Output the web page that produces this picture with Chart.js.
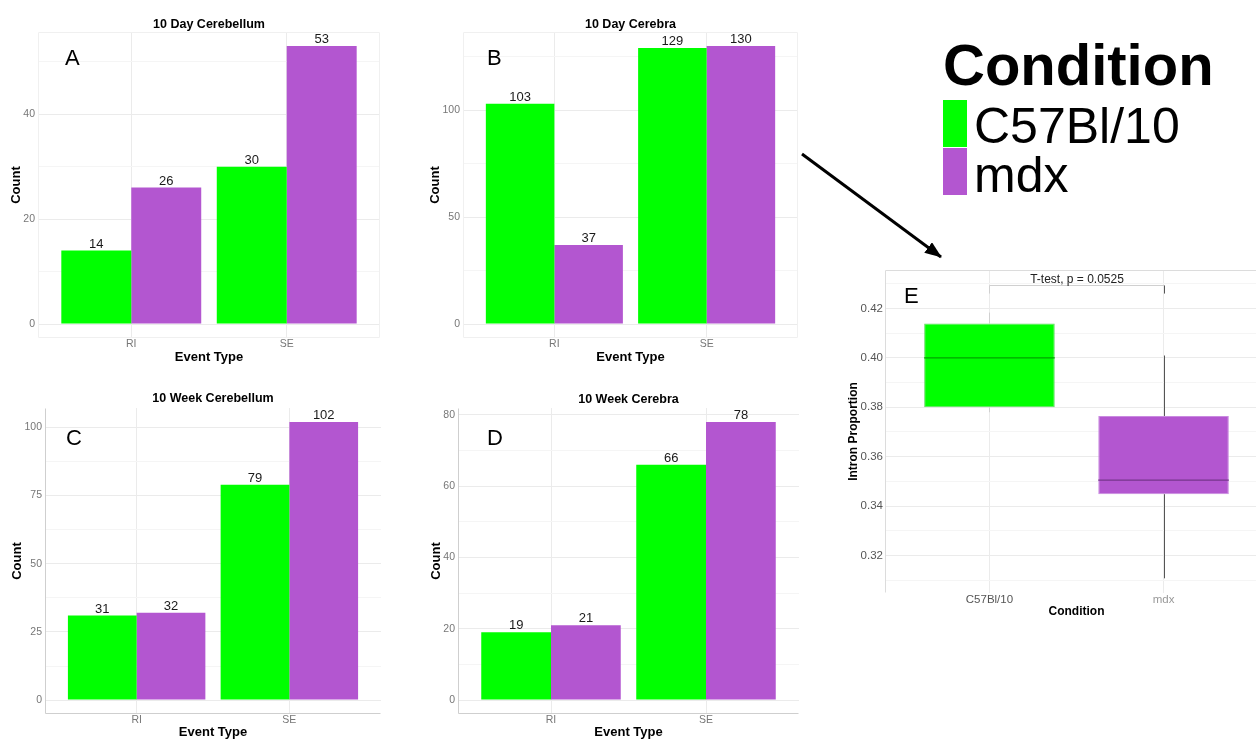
<!DOCTYPE html>
<html lang="en">
<head>
<meta charset="UTF-8">
<title>Event counts and intron proportion</title>
<script src="https://cdn.jsdelivr.net/npm/chart.js@4.4.1/dist/chart.umd.min.js"></script>
<style>
  body { margin: 0; width: 1256px; height: 740px; overflow: hidden; position: relative; background: #fff; }
  canvas { position: absolute; }
  svg { position: absolute; left: 0; top: 0; pointer-events: none; }
</style>
</head>
<body>
<canvas id="cA" width="410" height="370" style="left:0;top:0"></canvas>
<canvas id="cB" width="400" height="370" style="left:410px;top:0"></canvas>
<canvas id="cC" width="410" height="370" style="left:0;top:370px"></canvas>
<canvas id="cD" width="400" height="370" style="left:410px;top:370px"></canvas>
<canvas id="cE" width="460" height="390" style="left:830px;top:250px"></canvas>

<svg width="1256" height="740" font-family="Liberation Sans, Arial, sans-serif">
  <defs>
    <marker id="head" markerUnits="userSpaceOnUse" markerWidth="17" markerHeight="13" refX="16" refY="6.5" orient="auto">
      <path d="M0,0 L17,6.5 L0,13 z" fill="#000"/>
    </marker>
  </defs>
  <line x1="802" y1="154" x2="941" y2="257" stroke="#000" stroke-width="3" marker-end="url(#head)"/>
  <text x="943" y="85" font-size="58" font-weight="bold">Condition</text>
  <rect x="943" y="100" width="24" height="47" fill="#00ff00"/>
  <rect x="943" y="148" width="24" height="47" fill="#b356d0"/>
  <text x="974" y="143" font-size="50">C57Bl/10</text>
  <text x="974" y="192" font-size="50">mdx</text>
</svg>

<script>
    // 데이터
    const eventTypes = ['RI', 'SE'];
    const conditions = ['C57Bl/10', 'mdx'];

    const dayCerebellumC57 = [14, 30];
    const dayCerebellumMdx = [26, 53];
    const dayCerebraC57 = [103, 129];
    const dayCerebraMdx = [37, 130];
    const weekCerebellumC57 = [31, 79];
    const weekCerebellumMdx = [32, 102];
    const weekCerebraC57 = [19, 66];
    const weekCerebraMdx = [21, 78];

    const ticksA = [0, 20, 40];
    const minorA = [10, 30, 50];
    const ticksB = [0, 50, 100];
    const minorB = [25, 75, 125];
    const ticksC = [0, 25, 50, 75, 100];
    const minorC = [12.5, 37.5, 62.5, 87.5];
    const ticksD = [0, 20, 40, 60, 80];
    const minorD = [10, 30, 50, 70];

    // 박스플롯 (Intron Proportion)
    const intronLow = [0.378, 0.3107];
    const intronQ1 = [0.380, 0.3448];
    const intronMedian = [0.400, 0.3505];
    const intronQ3 = [0.414, 0.3765];
    const intronHigh = [0.4184, 0.401];
    const testLabel = 'T-test, p = 0.0525';
    const bracketTop = 0.4297;
    const bracketTip = 0.4261;
    const ticksE = [0.32, 0.34, 0.36, 0.38, 0.40, 0.42];
    const minorE = [0.31, 0.33, 0.35, 0.37, 0.39, 0.41, 0.43];

    const GREEN = '#00ff00';
    const PURPLE = '#b356d0';
    const GRID = '#ebebeb';
    const GRID_MINOR = '#f5f5f5';
    const FONT = '"Liberation Sans", Arial, sans-serif';
    Chart.defaults.font.family = FONT;

    // 제목, 패널 문자, 값 라벨, 테두리
    const decor = {
        id: 'decor',
        beforeDatasetsDraw(chart, args, o) {
            const {ctx, chartArea: a} = chart;
            if (!o.frame) return;
            ctx.save();
            ctx.strokeStyle = o.frameColor;
            ctx.lineWidth = 1;
            ctx.beginPath();
            const L = Math.round(a.left) + 0.5, R = Math.round(a.right) - 0.5;
            const T = Math.round(a.top) + 0.5, B = Math.round(a.bottom) - 0.5;
            if (o.frame.includes('t')) { ctx.moveTo(L, T); ctx.lineTo(R, T); }
            if (o.frame.includes('l')) { ctx.moveTo(L, T); ctx.lineTo(L, B); }
            if (o.frame.includes('r')) { ctx.moveTo(R, T); ctx.lineTo(R, B); }
            if (o.frame.includes('b')) { ctx.moveTo(L, B); ctx.lineTo(R, B); }
            ctx.stroke();
            ctx.restore();
        },
        afterDraw(chart, args, o) {
            const {ctx, chartArea: a} = chart;
            ctx.save();
            ctx.fillStyle = '#000';
            if (o.title) {
                ctx.font = 'bold 12.5px ' + FONT;
                ctx.textAlign = 'center';
                ctx.textBaseline = 'alphabetic';
                ctx.fillText(o.title, (a.left + a.right) / 2, a.top - o.titleGap);
            }
            ctx.font = '22px ' + FONT;
            ctx.textAlign = 'left';
            ctx.textBaseline = 'alphabetic';
            ctx.fillText(o.letter, a.left + o.letterX, a.top + o.letterY);
            if (o.values) {
                ctx.font = '13px ' + FONT;
                ctx.fillStyle = '#1a1a1a';
                ctx.textAlign = 'center';
                chart.data.datasets.forEach((ds, i) => {
                    chart.getDatasetMeta(i).data.forEach((bar, j) => {
                        ctx.fillText(String(ds.data[j].y), bar.x, bar.y - 3);
                    });
                });
            }
            ctx.restore();
        }
    };

    function makeCountChart(id, c57, mdx, major, minor, lay) {
        const top = Math.max(...c57, ...mdx);
        const pad = top * 0.05;
        new Chart(document.getElementById(id), {
            type: 'bar',
            data: {
                datasets: [
                    { label: conditions[0], data: eventTypes.map((e, i) => ({x: i + 1, y: c57[i]})),
                      backgroundColor: GREEN, borderWidth: 0, categoryPercentage: 0.9, barPercentage: 1 },
                    { label: conditions[1], data: eventTypes.map((e, i) => ({x: i + 1, y: mdx[i]})),
                      backgroundColor: PURPLE, borderWidth: 0, categoryPercentage: 0.9, barPercentage: 1 }
                ]
            },
            options: {
                responsive: false, animation: false, events: [],
                layout: { padding: { top: lay.top, right: lay.right, bottom: 0, left: 0 } },
                scales: {
                    x: {
                        type: 'linear', min: 0.4, max: 2.6, offset: false,
                        afterBuildTicks: s => { s.ticks = eventTypes.map((e, i) => ({value: i + 1})); },
                        afterFit: s => { s.height = lay.xh; },
                        grid: { color: GRID, drawTicks: false, offset: false },
                        border: { display: false },
                        ticks: { padding: 0, color: '#777', font: { size: 10.5 }, autoSkip: false, maxRotation: 0,
                                 callback: v => eventTypes[v - 1] || '' },
                        title: { display: true, text: 'Event Type', color: '#000',
                                 font: { size: 13, weight: 'bold' }, padding: { top: 0, bottom: lay.xtp } }
                    },
                    y: {
                        min: -pad, max: top + pad,
                        afterBuildTicks: s => { s.ticks = major.concat(minor).map(v => ({value: v})); },
                        afterFit: s => { s.width = lay.yw; },
                        grid: { color: c => (c.tick && minor.includes(c.tick.value)) ? GRID_MINOR : GRID, drawTicks: false },
                        border: { display: false },
                        ticks: { padding: 3, color: '#777', font: { size: 10.5 },
                                 callback: v => major.includes(v) ? String(v) : '' },
                        title: { display: true, text: 'Count', color: '#000',
                                 font: { size: 13, weight: 'bold' }, padding: { top: lay.ytp, bottom: 0 } }
                    }
                },
                plugins: {
                    legend: { display: false }, tooltip: { enabled: false },
                    decor: { title: lay.title, titleGap: lay.titleGap, letter: lay.letter,
                             letterX: lay.letterX, letterY: lay.letterY, values: true,
                             frame: lay.frame, frameColor: lay.frameColor }
                }
            },
            plugins: [decor]
        });
    }

    makeCountChart('cA', dayCerebellumC57, dayCerebellumMdx, ticksA, minorA,
        { top: 32, right: 30, xh: 32, yw: 38, xtp: 5.2, ytp: 9, title: '10 Day Cerebellum', titleGap: 4,
          letter: 'A', letterX: 27, letterY: 33, frame: 'tlrb', frameColor: '#f0f0f0' });
    makeCountChart('cB', dayCerebraC57, dayCerebraMdx, ticksB, minorB,
        { top: 32, right: 12, xh: 32, yw: 53, xtp: 5.2, ytp: 18, title: '10 Day Cerebra', titleGap: 4,
          letter: 'B', letterX: 24, letterY: 33, frame: 'tlrb', frameColor: '#f0f0f0' });
    makeCountChart('cC', weekCerebellumC57, weekCerebellumMdx, ticksC, minorC,
        { top: 38, right: 29, xh: 26, yw: 45, xtp: 0.2, ytp: 9.2, title: '10 Week Cerebellum', titleGap: 6,
          letter: 'C', letterX: 21, letterY: 37, frame: 'lb', frameColor: '#cfcfcf' });
    makeCountChart('cD', weekCerebraC57, weekCerebraMdx, ticksD, minorD,
        { top: 38, right: 11, xh: 26, yw: 48, xtp: 0.2, ytp: 18.2, title: '10 Week Cerebra', titleGap: 5,
          letter: 'D', letterX: 29, letterY: 37, frame: 'lb', frameColor: '#cfcfcf' });

    // 박스플롯: 수염, 중앙값, t-검정 괄호
    const boxExtras = {
        id: 'boxExtras',
        afterDatasetsDraw(chart) {
            const {ctx, scales: {x, y}} = chart;
            const meta = chart.getDatasetMeta(0);
            const whiskerColors = ['#d0d0d0', '#555'];
            const medianColors = ['#00a300', '#76368c'];
            ctx.save();
            conditions.forEach((c, i) => {
                const bar = meta.data[i];
                const cx = Math.round(x.getPixelForValue(i + 1)) + 0.5;
                ctx.strokeStyle = whiskerColors[i];
                ctx.lineWidth = 1;
                ctx.beginPath();
                ctx.moveTo(cx, y.getPixelForValue(intronHigh[i]));
                ctx.lineTo(cx, y.getPixelForValue(intronQ3[i]));
                ctx.moveTo(cx, y.getPixelForValue(intronQ1[i]));
                ctx.lineTo(cx, y.getPixelForValue(intronLow[i]));
                ctx.stroke();
                ctx.strokeStyle = medianColors[i];
                ctx.lineWidth = 1.2;
                ctx.beginPath();
                const my = y.getPixelForValue(intronMedian[i]);
                ctx.moveTo(bar.x - bar.width / 2, my);
                ctx.lineTo(bar.x + bar.width / 2, my);
                ctx.stroke();
            });
            const x1 = Math.round(x.getPixelForValue(1)) + 0.5;
            const x2 = Math.round(x.getPixelForValue(2)) + 0.5;
            const by = Math.round(y.getPixelForValue(bracketTop)) + 0.5;
            const ty = y.getPixelForValue(bracketTip);
            ctx.lineWidth = 1;
            ctx.strokeStyle = '#d0d0d0';
            ctx.beginPath();
            ctx.moveTo(x1, ty); ctx.lineTo(x1, by); ctx.lineTo(x2, by);
            ctx.stroke();
            ctx.strokeStyle = '#555';
            ctx.beginPath();
            ctx.moveTo(x2, by); ctx.lineTo(x2, ty);
            ctx.stroke();
            ctx.fillStyle = '#222';
            ctx.font = '12px ' + FONT;
            ctx.textAlign = 'center';
            ctx.textBaseline = 'alphabetic';
            ctx.fillText(testLabel, (x1 + x2) / 2, by - 3);
            ctx.restore();
        }
    };

    const eLo = Math.min(...intronLow);
    const eHi = bracketTop;
    const ePad = (eHi - eLo) * 0.05;
    new Chart(document.getElementById('cE'), {
        type: 'bar',
        data: {
            datasets: [{
                data: conditions.map((c, i) => ({x: i + 1, y: [intronQ1[i], intronQ3[i]]})),
                backgroundColor: [GREEN, PURPLE],
                borderColor: ['#5fd85f', '#c98ae0'],
                borderWidth: 1, borderSkipped: false,
                categoryPercentage: 0.75, barPercentage: 1
            }]
        },
        options: {
            responsive: false, animation: false, events: [],
            layout: { padding: { top: 20, right: 22, bottom: 0, left: 0 } },
            scales: {
                x: {
                    type: 'linear', min: 0.4, max: 2.6, offset: false,
                    afterBuildTicks: s => { s.ticks = conditions.map((c, i) => ({value: i + 1})); },
                    afterFit: s => { s.height = 47; },
                    grid: { color: GRID, drawTicks: false, offset: false },
                    border: { display: false },
                    ticks: { padding: 0, color: c => c.index === 0 ? '#555' : '#999', font: { size: 11.5 },
                             autoSkip: false, maxRotation: 0, callback: v => conditions[v - 1] || '' },
                    title: { display: true, text: 'Condition', color: '#000',
                             font: { size: 12, weight: 'bold' }, padding: { top: 0, bottom: 20.8 } }
                },
                y: {
                    min: eLo - ePad, max: eHi + ePad,
                    afterBuildTicks: s => { s.ticks = ticksE.concat(minorE).map(v => ({value: v})); },
                    afterFit: s => { s.width = 55; },
                    grid: { color: c => (c.tick && minorE.includes(c.tick.value)) ? GRID_MINOR : GRID, drawTicks: false },
                    border: { display: false },
                    ticks: { padding: 2, color: '#555', font: { size: 11.5 },
                             callback: v => ticksE.includes(v) ? v.toFixed(2) : '' },
                    title: { display: true, text: 'Intron Proportion', color: '#000',
                             font: { size: 12, weight: 'bold' }, padding: { top: 16.8, bottom: 0 } }
                }
            },
            plugins: {
                legend: { display: false }, tooltip: { enabled: false },
                decor: { letter: 'E', letterX: 19, letterY: 33, values: false, frame: 'tl', frameColor: '#dcdcdc' }
            }
        },
        plugins: [decor, boxExtras]
    });
</script>
</body>
</html>
